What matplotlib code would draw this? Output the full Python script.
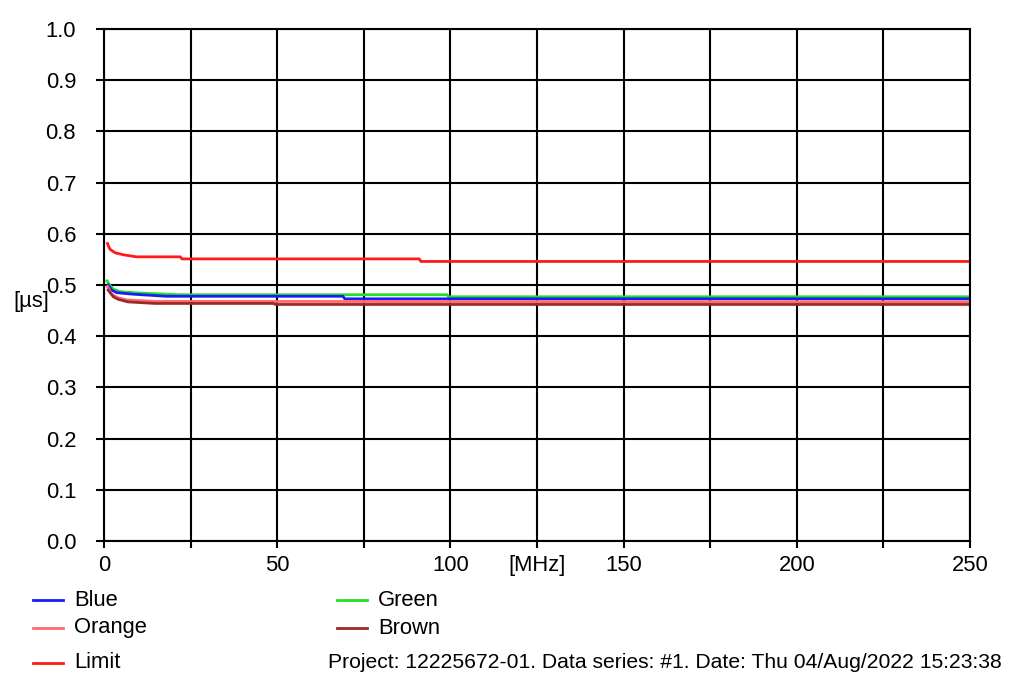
import matplotlib
matplotlib.use("Agg")
import matplotlib.pyplot as plt
from matplotlib.lines import Line2D

# ---- data ----
limit_f = [1.0, 1.7, 3.2, 5.6, 9.4, 22.0, 22.5, 91.0, 91.5, 250.0]
limit_v = [0.581, 0.570, 0.563, 0.559, 0.555, 0.555, 0.551, 0.551, 0.546, 0.546]

green_f = [0.9, 1.6, 2.7, 4.6, 8.5, 21.5, 99.0, 99.5, 250.0]
green_v = [0.508, 0.500, 0.492, 0.487, 0.485, 0.481, 0.481, 0.477, 0.477]

blue_f = [1.2, 2.2, 3.7, 8.5, 18.0, 69.0, 69.5, 250.0]
blue_v = [0.500, 0.490, 0.485, 0.482, 0.478, 0.478, 0.473, 0.473]

orange_f = [1.0, 2.2, 4.1, 6.5, 14.7, 250.0]
orange_v = [0.497, 0.482, 0.475, 0.471, 0.468, 0.467]

brown_f = [1.2, 2.7, 4.1, 7.0, 14.7, 49.0, 49.5, 250.0]
brown_v = [0.490, 0.477, 0.472, 0.467, 0.464, 0.464, 0.462, 0.462]

x_ticks = [0, 25, 50, 75, 100, 125, 150, 175, 200, 225, 250]
x_ticklabels = ["0", "", "50", "", "100", "[MHz]", "150", "", "200", "", "250"]
y_ticks = [0.0, 0.1, 0.2, 0.3, 0.4, 0.5, 0.6, 0.7, 0.8, 0.9, 1.0]
y_ticklabels = ["0.0", "0.1", "0.2", "0.3", "0.4", "0.5", "0.6", "0.7", "0.8", "0.9", "1.0"]

legend_names = ["Blue", "Orange", "Limit", "Green", "Brown"]
footer = "Project: 12225672-01. Data series: #1. Date: Thu 04/Aug/2022 15:23:38"

# ---- style ----
C_BLUE = "#1a1aff"
C_GREEN = "#22e022"
C_ORANGE = "#ff6a6a"
C_BROWN = "#9a2a2a"
C_LIMIT = "#ff1a1a"

plt.rcParams["font.family"] = ["Liberation Sans", "DejaVu Sans"]
FS = 15.8

fig = plt.figure(figsize=(10.24, 6.74), dpi=100)
ax = fig.add_axes([104 / 1024, 1 - 541 / 674, (970 - 104) / 1024, (541 - 29) / 674])

lw = 2.0
ax.plot(green_f, green_v, color=C_GREEN, lw=lw)
ax.plot(blue_f, blue_v, color=C_BLUE, lw=lw)
ax.plot(orange_f, orange_v, color=C_ORANGE, lw=lw)
ax.plot(brown_f, brown_v, color=C_BROWN, lw=lw)
ax.plot(limit_f, limit_v, color=C_LIMIT, lw=lw)

ax.set_xlim(0, 250)
ax.set_ylim(0, 1.0)
ax.set_xticks(x_ticks)
ax.set_xticklabels(x_ticklabels, fontsize=FS)
ax.set_yticks(y_ticks)
ax.set_yticklabels(y_ticklabels, fontsize=FS)
ax.grid(True, color="black", lw=1.5)
ax.set_axisbelow(True)
for s in ax.spines.values():
    s.set_color("black")
    s.set_linewidth(1.5)
ax.tick_params(axis="x", length=5, width=1.5, pad=5)
ax.tick_params(axis="y", length=6, width=1.5, pad=14)

fig.text(13 / 1024, 1 - 302 / 674, "[µs]", fontsize=FS, ha="left", va="center")

# legend (manual, like the original)
entries = [
    (C_BLUE, legend_names[0], 33, 600),
    (C_ORANGE, legend_names[1], 33, 628),
    (C_LIMIT, legend_names[2], 33, 663),
    (C_GREEN, legend_names[3], 337, 600),
    (C_BROWN, legend_names[4], 337, 628),
]
W, H = 1024, 674
for col, name, x0, y0 in entries:
    fig.add_artist(Line2D([x0 / W, (x0 + 30) / W], [1 - y0 / H, 1 - y0 / H],
                          color=col, lw=2.0, transform=fig.transFigure))
    fig.text((x0 + 41) / W, 1 - y0 / H, name, fontsize=FS, ha="left", va="center")

fig.text(328 / W, 1 - 663 / H, footer, fontsize=15.2, ha="left", va="center")

fig.savefig("out.png", dpi=100, facecolor="white")
